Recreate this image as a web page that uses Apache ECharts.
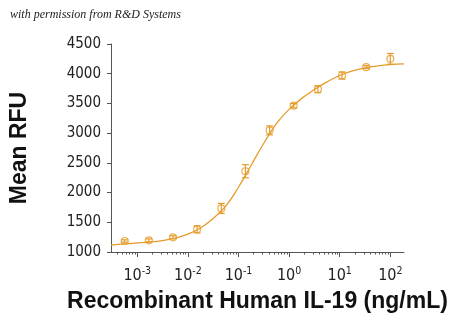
<!DOCTYPE html>
<html>
<head>
<meta charset="utf-8">
<script src="https://cdn.jsdelivr.net/npm/echarts@6/dist/echarts.min.js"></script>
<style>
  html, body { margin: 0; padding: 0; background: #ffffff; }
  #chart { width: 450px; height: 324px; }
</style>
</head>
<body>
<div id="chart"></div>
<script>
// Concentrations (ng/mL) of the measured points
var concentrations = [0.000565, 0.00169, 0.00508, 0.0152, 0.0457, 0.137, 0.412, 1.23, 3.70, 11.1, 33.3, 100];
// Mean RFU for each concentration
var meanRFU = [1185, 1196, 1247, 1381, 1733, 2359, 3047, 3462, 3740, 3970, 4110, 4250];
// Error bar half-lengths
var errRFU = [20, 25, 25, 60, 85, 110, 75, 35, 60, 60, 25, 90];

// Fitted curve: log10(concentration) and RFU
var curveLogX = [-3.52, -3.25, -3.0, -2.75, -2.5, -2.25, -2.0, -1.75, -1.5, -1.25, -1.0, -0.75, -0.5, -0.25, 0.0, 0.25, 0.5, 0.75, 1.0, 1.25, 1.5, 1.75, 2.0, 2.27];
var curveRFU  = [1117, 1137, 1152, 1167, 1192, 1232, 1300, 1405, 1565, 1775, 2090, 2460, 2830, 3160, 3400, 3585, 3735, 3862, 3970, 4048, 4100, 4132, 4153, 4166];

// Axis ticks
var majorDecades = [-3, -2, -1, 0, 1, 2];
var minorDecades = [-4, -3, -2, -1, 0, 1, 2];
var minorFactors = [2, 3, 4, 5, 6, 7, 8, 9];
var yTicks = [1000, 1500, 2000, 2500, 3000, 3500, 4000, 4500];

var XMIN = -3.519, XMAX = 2.27;
var ORANGE = '#E59B2B';
var AXIS = '#555555';
var NARROW = '"Liberation Sans Narrow", "DejaVu Sans Condensed", sans-serif';

var minorTicks = [];
minorDecades.forEach(function (d) {
  minorFactors.forEach(function (f) {
    var v = d + Math.log10(f);
    if (v > XMIN && v < XMAX) minorTicks.push(v);
  });
});

var points = concentrations.map(function (c, i) { return [Math.log10(c), meanRFU[i]]; });
var errData = concentrations.map(function (c, i) { return [Math.log10(c), meanRFU[i], errRFU[i]]; });
var curve = curveLogX.map(function (x, i) { return [x, curveRFU[i]]; });

var chart = echarts.init(document.getElementById('chart'), null, { renderer: 'canvas' });

chart.setOption({
  animation: false,
  backgroundColor: '#ffffff',
  grid: { left: 103, right: 46, top: 44, bottom: 72, containLabel: false },
  graphic: [{
    type: 'text',
    left: 10, top: 9,
    style: {
      text: 'with permission from R&D Systems',
      fill: '#222222',
      font: 'italic 12px "Liberation Serif", serif'
    }
  }],
  xAxis: [{
    type: 'value',
    min: XMIN, max: XMAX,
    axisLine: { show: true, onZero: false, lineStyle: { color: AXIS, width: 1 } },
    axisTick: { show: true, customValues: majorDecades, length: 5, lineStyle: { color: AXIS, width: 1 } },
    splitLine: { show: false },
    axisLabel: {
      customValues: majorDecades,
      margin: 14,
      formatter: function (v) { return '{b|10}{s|' + Math.round(v) + '}'; },
      rich: {
        b: { fontSize: 16, fontFamily: NARROW, color: '#222', verticalAlign: 'bottom', lineHeight: 18 },
        s: { fontSize: 10.5, fontFamily: NARROW, color: '#222', verticalAlign: 'top', lineHeight: 10, padding: [0, 0, 8, 0] }
      }
    },
    name: 'Recombinant Human IL-19 (ng/mL)',
    nameLocation: 'middle',
    nameGap: 38,
    nameTextStyle: { fontSize: 23, fontWeight: 'bold', fontFamily: '"Liberation Sans", Arial, sans-serif', color: '#111' }
  }, {
    type: 'value',
    min: XMIN, max: XMAX,
    position: 'bottom',
    axisLine: { show: false, onZero: false },
    axisTick: { show: true, customValues: minorTicks, length: 2.5, lineStyle: { color: AXIS, width: 1 } },
    axisLabel: { show: false },
    splitLine: { show: false }
  }],
  yAxis: {
    type: 'value',
    min: 1000, max: 4500, interval: 500,
    axisLine: { show: true, onZero: false, lineStyle: { color: AXIS, width: 1 } },
    axisTick: { show: true, length: 4, lineStyle: { color: AXIS, width: 1 } },
    splitLine: { show: false },
    axisLabel: {
      margin: 10,
      fontSize: 15,
      fontFamily: NARROW,
      color: '#222',
      formatter: function (v) { return String(v); }
    },
    name: 'Mean RFU',
    nameLocation: 'middle',
    nameGap: 80,
    nameTextStyle: { fontSize: 23, fontWeight: 'bold', fontFamily: '"Liberation Sans", Arial, sans-serif', color: '#111' }
  },
  series: [{
    type: 'line',
    data: curve,
    smooth: 0.4,
    symbol: 'none',
    lineStyle: { color: ORANGE, width: 1.3 },
    z: 2
  }, {
    type: 'custom',
    data: errData,
    renderItem: function (params, api) {
      var x = api.value(0), y = api.value(1), e = api.value(2);
      var top = api.coord([x, y + e]);
      var bot = api.coord([x, y - e]);
      var h = 3.5;
      var st = { stroke: ORANGE, lineWidth: 1.2, fill: null };
      return {
        type: 'group',
        children: [
          { type: 'line', shape: { x1: top[0], y1: top[1], x2: bot[0], y2: bot[1] }, style: st },
          { type: 'line', shape: { x1: top[0] - h, y1: top[1], x2: top[0] + h, y2: top[1] }, style: st },
          { type: 'line', shape: { x1: bot[0] - h, y1: bot[1], x2: bot[0] + h, y2: bot[1] }, style: st }
        ]
      };
    },
    z: 3
  }, {
    type: 'scatter',
    data: points,
    symbol: 'circle',
    symbolSize: 7,
    itemStyle: { color: 'rgba(255,255,255,0)', borderColor: ORANGE, borderWidth: 1.2 },
    z: 4
  }]
});
</script>
</body>
</html>
